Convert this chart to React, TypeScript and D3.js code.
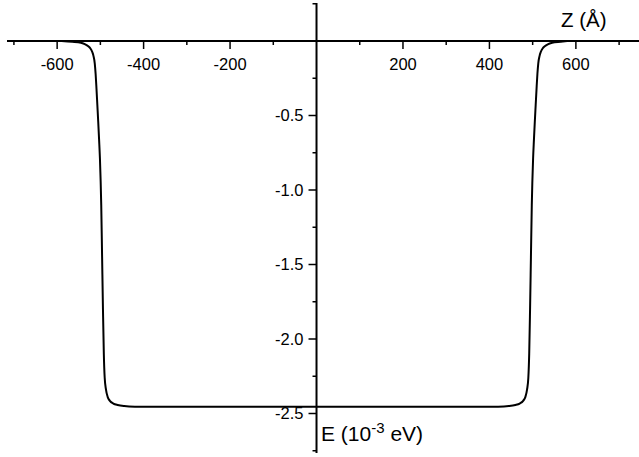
import React, { useEffect } from "react";
import * as d3 from "d3";

// Energy profile E(z): z in Å, E in 10^-3 eV
const zValues = [
  -590, -565, -545, -535, -528, -523, -519, -516, -513, -511, -509, -507, -505, -503, -501,
  -498, -496, -494, -492, -490, -487, -483, -478, -470, -460, -445, -420, -380, -300, -200, -100, 0,
  100, 200, 300, 380, 420, 445, 460, 470, 478, 483, 487, 490, 492, 494, 496, 498,
  501, 503, 505, 507, 509, 511, 513, 516, 519, 523, 528, 535, 545, 565, 580,
];
const eValues = [
  0, -0.005, -0.012, -0.022, -0.035, -0.05, -0.072, -0.1, -0.15, -0.22, -0.32, -0.43, -0.54, -0.66, -0.79,
  -1.1, -1.45, -1.8, -2.1, -2.26, -2.34, -2.39, -2.415, -2.433, -2.443, -2.45, -2.454, -2.455, -2.455, -2.455, -2.455, -2.455,
  -2.455, -2.455, -2.455, -2.455, -2.454, -2.45, -2.443, -2.433, -2.415, -2.39, -2.34, -2.26, -2.1, -1.8, -1.45, -1.1,
  -0.79, -0.66, -0.54, -0.43, -0.32, -0.22, -0.15, -0.1, -0.072, -0.05, -0.035, -0.022, -0.012, -0.005, 0,
];

const xMajorTicks = [-600, -400, -200, 200, 400, 600];
const xMinorTicks = [-700, -500, -300, -100, 100, 300, 500, 700];
const yMajorTicks = [-0.5, -1.0, -1.5, -2.0, -2.5];
const yMinorTicks = [0.25, -0.25, -0.75, -1.25, -1.75, -2.25, -2.75];

const W = 639;
const H = 457;
const FONT = "'Liberation Sans', Arial, Helvetica, sans-serif";

export default function App() {
  useEffect(() => {
    document.body.style.margin = "0";
  }, []);

  const x = d3.scaleLinear().domain([-716, 746]).range([7, 639]);
  const y = d3.scaleLinear().domain([0, -2.5]).range([41, 413.5]);
  const x0 = x(0);
  const y0 = y(0);

  const pts: [number, number][] = zValues.map((z, i) => [z, eValues[i]]);
  const line = d3
    .line<[number, number]>()
    .x((d) => x(d[0]))
    .y((d) => y(d[1]))
    .curve(d3.curveMonotoneX);

  return (
    <svg width={W} height={H} style={{ display: "block", background: "#fff" }}>
      {/* x axis */}
      <line x1={x(-716)} x2={x(746)} y1={y0} y2={y0} stroke="#000" strokeWidth={2} />
      {xMajorTicks.map((t) => (
        <g key={"xm" + t}>
          <line x1={x(t)} x2={x(t)} y1={y0} y2={y0 + 8} stroke="#000" strokeWidth={1.5} />
          <text
            x={x(t)}
            y={y0 + 29}
            textAnchor="middle"
            fontFamily={FONT}
            fontSize={16.5}
            fill="#000"
          >
            {t}
          </text>
        </g>
      ))}
      {xMinorTicks.map((t) => (
        <line key={"xn" + t} x1={x(t)} x2={x(t)} y1={y0} y2={y0 + 4} stroke="#000" strokeWidth={1.5} />
      ))}

      {/* y axis */}
      <line x1={x0} x2={x0} y1={y(0.255)} y2={y(-2.765)} stroke="#000" strokeWidth={2} />
      {yMajorTicks.map((t) => (
        <g key={"ym" + t}>
          <line x1={x0 - 8} x2={x0} y1={y(t)} y2={y(t)} stroke="#000" strokeWidth={1.5} />
          <text
            x={x0 - 13}
            y={y(t) + 5.5}
            textAnchor="end"
            fontFamily={FONT}
            fontSize={16.5}
            fill="#000"
          >
            {t.toFixed(1)}
          </text>
        </g>
      ))}
      {yMinorTicks.map((t) => (
        <line key={"yn" + t} x1={x0 - 4} x2={x0} y1={y(t)} y2={y(t)} stroke="#000" strokeWidth={1.5} />
      ))}

      {/* curve */}
      <path d={line(pts) || ""} fill="none" stroke="#000" strokeWidth={2} />

      {/* axis titles */}
      <text x={561} y={27} fontFamily={FONT} fontSize={20.5} fill="#000">
        Z (Å)
      </text>
      <text x={321} y={441} fontFamily={FONT} fontSize={21} fill="#000">
        E (10
        <tspan dy={-8} fontSize={15}>
          -3
        </tspan>
        <tspan dy={8}> eV)</tspan>
      </text>
    </svg>
  );
}
